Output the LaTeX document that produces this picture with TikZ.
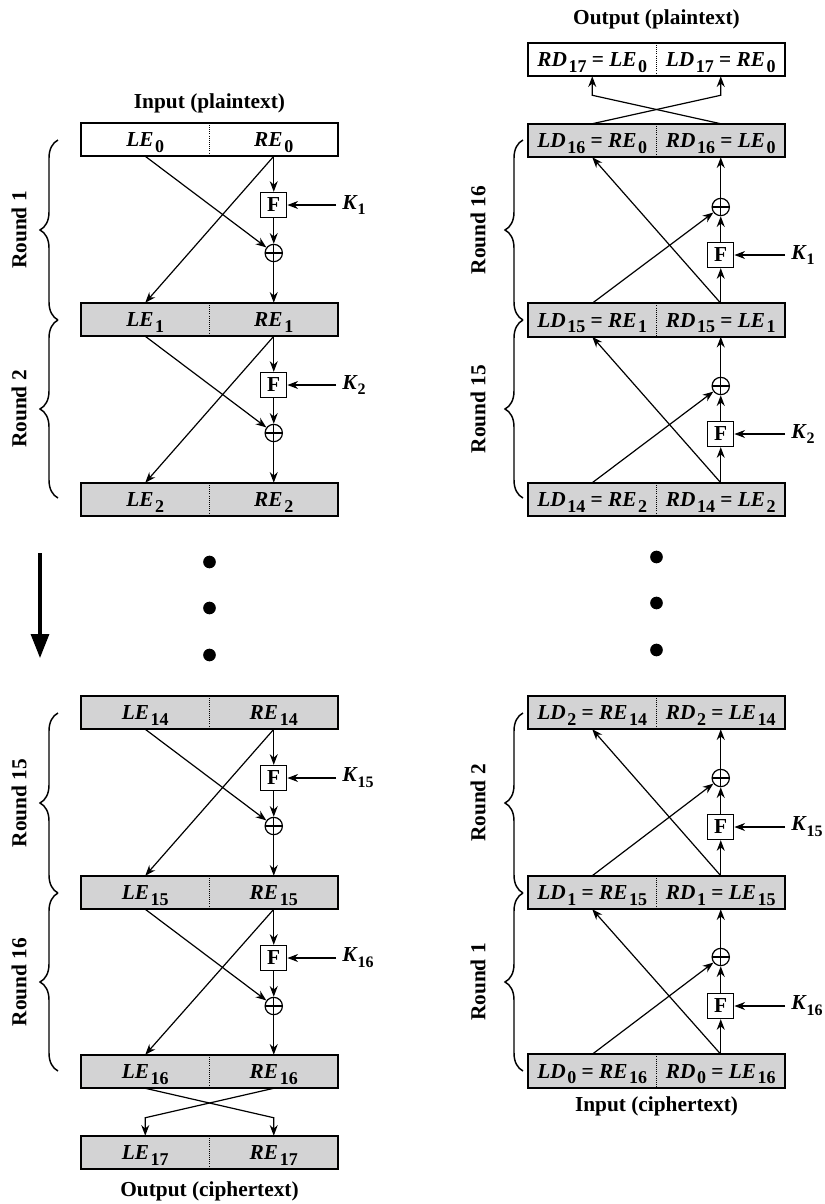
\documentclass[tikz,border=0pt]{standalone}
\usepackage{fontspec}
\setmainfont{Liberation Serif}
\usetikzlibrary{arrows.meta,decorations.pathreplacing}
\definecolor{boxgray}{RGB}{211,211,212}
\newcommand{\hv}[2]{\textit{#1}\kern1.2pt\raisebox{-0.6ex}{\fontsize{13.5}{15}\selectfont #2}}
\newcommand{\kv}[1]{\textit{K}\raisebox{-0.6ex}{\fontsize{12}{13}\selectfont #1}}
\tikzset{
  halfbox/.style={minimum width=96.375pt, minimum height=24.75pt, inner sep=0pt, text height=11.5pt, text depth=1pt, font=\fontsize{16}{19}\selectfont\bfseries},
  grayhalf/.style={halfbox, fill=boxgray},
  whitehalf/.style={halfbox, fill=white},
  blockframe/.style={line width=1.6pt},
  divider/.style={densely dotted, line width=0.6pt},
  fbox/.style={draw, line width=1pt, minimum width=19.5pt, minimum height=18.75pt, inner sep=0pt, font=\fontsize{16}{19}\selectfont\bfseries},
  xor/.style={circle, draw, line width=0.9pt, minimum size=13pt, inner sep=0pt, path picture={\draw[line width=0.9pt] (path picture bounding box.north) -- (path picture bounding box.south) (path picture bounding box.west) -- (path picture bounding box.east);}},
  klab/.style={anchor=west, inner xsep=4.5pt, inner ysep=0pt, font=\fontsize{16}{19}\selectfont\bfseries},
  arr/.style={-{Stealth[length=8pt,width=6pt]}, line width=0.9pt},
  bigarr/.style={-{Triangle[length=18pt,width=13.5pt]}, line width=2.5pt},
  cbrace/.style={decorate, decoration={brace, amplitude=13.5pt}, line width=1.1pt},
  roundlab/.style={rotate=90, inner sep=0pt, font=\fontsize{16}{19}\selectfont\bfseries},
  title/.style={inner sep=0pt, font=\fontsize{16}{19}\selectfont\bfseries},
  dot/.style={circle, fill, minimum size=9.5pt, inner sep=0pt}
}
\begin{document}
\begin{tikzpicture}[x=0.75pt,y=0.75pt,yscale=-1,xscale=1]
\useasboundingbox (0,0) rectangle (825,1204);

%%%%%%%%%%%%%%%%%%%%%%%% Encryption (left)
% Text Node
\node[title] (encin) at (209.5,103) {Input (plaintext)};
\node[title] (encout) at (209.5,1191) {Output (ciphertext)};

% Blocks
\node[whitehalf] (le0l) at (145.25,139.5) {\hv{LE}{0}};
\node[whitehalf] (le0r) at (273.75,139.5) {\hv{RE}{0}};
\node[grayhalf] (le1l) at (145.25,319.5) {\hv{LE}{1}};
\node[grayhalf] (le1r) at (273.75,319.5) {\hv{RE}{1}};
\node[grayhalf] (le2l) at (145.25,499.5) {\hv{LE}{2}};
\node[grayhalf] (le2r) at (273.75,499.5) {\hv{RE}{2}};
\node[grayhalf] (le14l) at (145.25,712.5) {\hv{LE}{14}};
\node[grayhalf] (le14r) at (273.75,712.5) {\hv{RE}{14}};
\node[grayhalf] (le15l) at (145.25,892.5) {\hv{LE}{15}};
\node[grayhalf] (le15r) at (273.75,892.5) {\hv{RE}{15}};
\node[grayhalf] (le16l) at (145.25,1071.5) {\hv{LE}{16}};
\node[grayhalf] (le16r) at (273.75,1071.5) {\hv{RE}{16}};
\node[grayhalf] (le17l) at (145.25,1152.5) {\hv{LE}{17}};
\node[grayhalf] (le17r) at (273.75,1152.5) {\hv{RE}{17}};

\draw[blockframe] (le0l.north west) rectangle (le0r.south east);
\draw[divider] (le0l.north east) -- (le0l.south east);
\draw[blockframe] (le1l.north west) rectangle (le1r.south east);
\draw[divider] (le1l.north east) -- (le1l.south east);
\draw[blockframe] (le2l.north west) rectangle (le2r.south east);
\draw[divider] (le2l.north east) -- (le2l.south east);
\draw[blockframe] (le14l.north west) rectangle (le14r.south east);
\draw[divider] (le14l.north east) -- (le14l.south east);
\draw[blockframe] (le15l.north west) rectangle (le15r.south east);
\draw[divider] (le15l.north east) -- (le15l.south east);
\draw[blockframe] (le16l.north west) rectangle (le16r.south east);
\draw[divider] (le16l.north east) -- (le16l.south east);
\draw[blockframe] (le17l.north west) rectangle (le17r.south east);
\draw[divider] (le17l.north east) -- (le17l.south east);

% Round 1
\node[fbox] (f1) at (273.75,205) {F};
\node[xor] (x1) at (273.75,253) {};
\node[klab] (k1) at (336,205) {\kv{1}};
\draw[arr] (le0r.south) -- (f1.north);
\draw[arr] (f1.south) -- (x1.north);
\draw[arr] (x1.south) -- (le1r.north);
\draw[arr] (le0l.south) -- (x1);
\draw[arr] (le0r.south) -- (le1l.north);
\draw[arr] (k1.west) -- (f1.east);

% Round 2
\node[fbox] (f2) at (273.75,385) {F};
\node[xor] (x2) at (273.75,433) {};
\node[klab] (k2) at (336,385) {\kv{2}};
\draw[arr] (le1r.south) -- (f2.north);
\draw[arr] (f2.south) -- (x2.north);
\draw[arr] (x2.south) -- (le2r.north);
\draw[arr] (le1l.south) -- (x2);
\draw[arr] (le1r.south) -- (le2l.north);
\draw[arr] (k2.west) -- (f2.east);

% Round 15
\node[fbox] (f15) at (273.75,778) {F};
\node[xor] (x15) at (273.75,826) {};
\node[klab] (k15) at (336,778) {\kv{15}};
\draw[arr] (le14r.south) -- (f15.north);
\draw[arr] (f15.south) -- (x15.north);
\draw[arr] (x15.south) -- (le15r.north);
\draw[arr] (le14l.south) -- (x15);
\draw[arr] (le14r.south) -- (le15l.north);
\draw[arr] (k15.west) -- (f15.east);

% Round 16
\node[fbox] (f16) at (273.75,958) {F};
\node[xor] (x16) at (273.75,1006) {};
\node[klab] (k16) at (336,958) {\kv{16}};
\draw[arr] (le15r.south) -- (f16.north);
\draw[arr] (f16.south) -- (x16.north);
\draw[arr] (x16.south) -- (le16r.north);
\draw[arr] (le15l.south) -- (x16);
\draw[arr] (le15r.south) -- (le16l.north);
\draw[arr] (k16.west) -- (f16.east);

% swap
\draw[arr] (le16l.south) -- ([yshift=-13.5pt]le17r.north) -- (le17r.north);
\draw[arr] (le16r.south) -- ([yshift=-13.5pt]le17l.north) -- (le17l.north);

% braces
\draw[cbrace] (58,320) -- (58,140);
\draw[cbrace] (58,498) -- (58,320);
\draw[cbrace] (58,893) -- (58,713);
\draw[cbrace] (58,1071) -- (58,893);
\node[roundlab] (er1) at (19,230) {Round 1};
\node[roundlab] (er2) at (19,409) {Round 2};
\node[roundlab] (er15) at (19,803) {Round 15};
\node[roundlab] (er16) at (19,982) {Round 16};

% dots and direction
\node[dot] (ed1) at (209.5,562) {};
\node[dot] (ed2) at (209.5,608) {};
\node[dot] (ed3) at (209.5,655) {};
\draw[bigarr] (40,553) -- (40,658);

%%%%%%%%%%%%%%%%%%%%%%%% Decryption (right)
% Text Node
\node[title] (decout) at (656.5,19) {Output (plaintext)};
\node[title] (decin) at (656.5,1106) {Input (ciphertext)};

% Blocks
\node[whitehalf] (ld17l) at (592.25,59.5) {\hv{RD}{17} = \hv{LE}{0}};
\node[whitehalf] (ld17r) at (720.75,59.5) {\hv{LD}{17} = \hv{RE}{0}};
\node[grayhalf] (ld16l) at (592.25,140.5) {\hv{LD}{16} = \hv{RE}{0}};
\node[grayhalf] (ld16r) at (720.75,140.5) {\hv{RD}{16} = \hv{LE}{0}};
\node[grayhalf] (ld15l) at (592.25,320) {\hv{LD}{15} = \hv{RE}{1}};
\node[grayhalf] (ld15r) at (720.75,320) {\hv{RD}{15} = \hv{LE}{1}};
\node[grayhalf] (ld14l) at (592.25,499.5) {\hv{LD}{14} = \hv{RE}{2}};
\node[grayhalf] (ld14r) at (720.75,499.5) {\hv{RD}{14} = \hv{LE}{2}};
\node[grayhalf] (ld2l) at (592.25,712.5) {\hv{LD}{2} = \hv{RE}{14}};
\node[grayhalf] (ld2r) at (720.75,712.5) {\hv{RD}{2} = \hv{LE}{14}};
\node[grayhalf] (ld1l) at (592.25,892.5) {\hv{LD}{1} = \hv{RE}{15}};
\node[grayhalf] (ld1r) at (720.75,892.5) {\hv{RD}{1} = \hv{LE}{15}};
\node[grayhalf] (ld0l) at (592.25,1071) {\hv{LD}{0} = \hv{RE}{16}};
\node[grayhalf] (ld0r) at (720.75,1071) {\hv{RD}{0} = \hv{LE}{16}};

\draw[blockframe] (ld17l.north west) rectangle (ld17r.south east);
\draw[divider] (ld17l.north east) -- (ld17l.south east);
\draw[blockframe] (ld16l.north west) rectangle (ld16r.south east);
\draw[divider] (ld16l.north east) -- (ld16l.south east);
\draw[blockframe] (ld15l.north west) rectangle (ld15r.south east);
\draw[divider] (ld15l.north east) -- (ld15l.south east);
\draw[blockframe] (ld14l.north west) rectangle (ld14r.south east);
\draw[divider] (ld14l.north east) -- (ld14l.south east);
\draw[blockframe] (ld2l.north west) rectangle (ld2r.south east);
\draw[divider] (ld2l.north east) -- (ld2l.south east);
\draw[blockframe] (ld1l.north west) rectangle (ld1r.south east);
\draw[divider] (ld1l.north east) -- (ld1l.south east);
\draw[blockframe] (ld0l.north west) rectangle (ld0r.south east);
\draw[divider] (ld0l.north east) -- (ld0l.south east);

% Round 16
\node[fbox] (rf16) at (720.75,255) {F};
\node[xor] (rx16) at (720.75,207) {};
\node[klab] (rk16) at (785,255) {\kv{1}};
\draw[arr] (ld15r.north) -- (rf16.south);
\draw[arr] (rf16.north) -- (rx16.south);
\draw[arr] (rx16.north) -- (ld16r.south);
\draw[arr] (ld15l.north) -- (rx16);
\draw[arr] (ld15r.north) -- (ld16l.south);
\draw[arr] (rk16.west) -- (rf16.east);

% Round 15
\node[fbox] (rf15) at (720.75,434) {F};
\node[xor] (rx15) at (720.75,386) {};
\node[klab] (rk15) at (785,434) {\kv{2}};
\draw[arr] (ld14r.north) -- (rf15.south);
\draw[arr] (rf15.north) -- (rx15.south);
\draw[arr] (rx15.north) -- (ld15r.south);
\draw[arr] (ld14l.north) -- (rx15);
\draw[arr] (ld14r.north) -- (ld15l.south);
\draw[arr] (rk15.west) -- (rf15.east);

% Round 2
\node[fbox] (rf2) at (720.75,827) {F};
\node[xor] (rx2) at (720.75,778) {};
\node[klab] (rk2) at (785,827) {\kv{15}};
\draw[arr] (ld1r.north) -- (rf2.south);
\draw[arr] (rf2.north) -- (rx2.south);
\draw[arr] (rx2.north) -- (ld2r.south);
\draw[arr] (ld1l.north) -- (rx2);
\draw[arr] (ld1r.north) -- (ld2l.south);
\draw[arr] (rk2.west) -- (rf2.east);

% Round 1
\node[fbox] (rf1) at (720.75,1006) {F};
\node[xor] (rx1) at (720.75,957) {};
\node[klab] (rk1) at (785,1006) {\kv{16}};
\draw[arr] (ld0r.north) -- (rf1.south);
\draw[arr] (rf1.north) -- (rx1.south);
\draw[arr] (rx1.north) -- (ld1r.south);
\draw[arr] (ld0l.north) -- (rx1);
\draw[arr] (ld0r.north) -- (ld1l.south);
\draw[arr] (rk1.west) -- (rf1.east);

% swap
\draw[arr] (ld16l.north) -- ([yshift=14.25pt]ld17r.south) -- (ld17r.south);
\draw[arr] (ld16r.north) -- ([yshift=14.25pt]ld17l.south) -- (ld17l.south);

% braces
\draw[cbrace] (523,320) -- (523,140);
\draw[cbrace] (523,498) -- (523,320);
\draw[cbrace] (523,893) -- (523,713);
\draw[cbrace] (523,1071) -- (523,893);
\node[roundlab] (dr16) at (478,230) {Round 16};
\node[roundlab] (dr15) at (478,409) {Round 15};
\node[roundlab] (dr2) at (478,803) {Round 2};
\node[roundlab] (dr1) at (478,982) {Round 1};

% dots
\node[dot] (dd1) at (656.5,557) {};
\node[dot] (dd2) at (656.5,603) {};
\node[dot] (dd3) at (656.5,650) {};

\end{tikzpicture}
\end{document}
